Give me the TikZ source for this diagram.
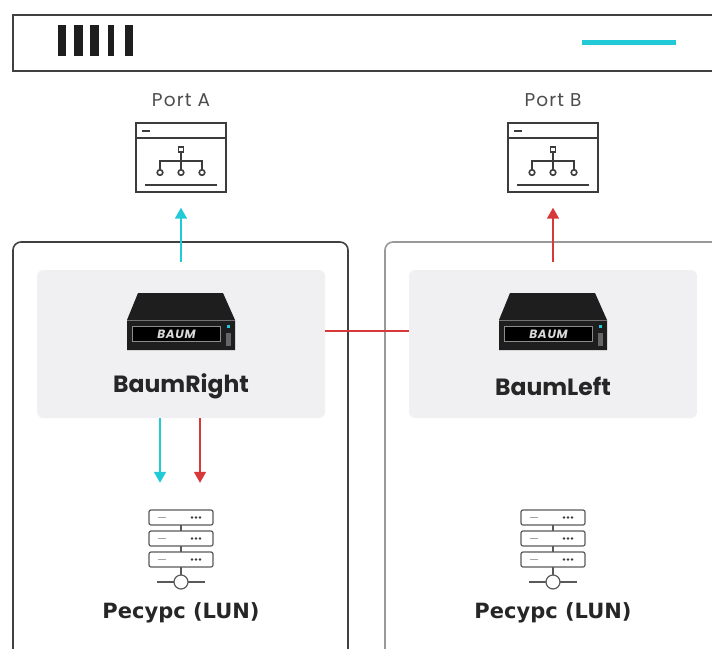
\documentclass[tikz,border=0pt]{standalone}
\usepackage{fontspec}
\setmainfont{Open Sans}
\newfontfamily\latinfont{Poppins}
\newfontfamily\widelatinfont[LetterSpace=6]{Poppins}
\newfontfamily\cyrfont{DejaVu Sans}
\usetikzlibrary{positioning,arrows.meta}
\definecolor{baumcyan}{HTML}{22C9D6}
\definecolor{baumred}{HTML}{D7393A}
\definecolor{panelgray}{HTML}{F0F0F3}
\definecolor{icongray}{HTML}{3C3C3C}
\definecolor{devblack}{HTML}{1E1E1E}

\begin{document}
\begin{tikzpicture}[x=1pt,y=-1pt,>={Triangle[length=11pt,width=12pt]},
  panel/.style={fill=panelgray,rounded corners=6pt,minimum width=288pt,minimum height=148pt,inner sep=0pt},
  window/.style={draw=icongray,line width=1.4pt,minimum width=90pt,minimum height=69pt,inner sep=0pt},
  icon/.style={draw=icongray,line width=1.3pt},
  rack/.style={draw=icongray!85,line width=1.2pt,rounded corners=2pt},
  title/.style={font=\latinfont\bfseries\fontsize{23.5}{26}\selectfont,text=black!85},
  restitle/.style={font=\cyrfont\bfseries\fontsize{21}{24}\selectfont,text=black!85},
  portname/.style={font=\widelatinfont\fontsize{18.5}{20}\selectfont,text=black!70},
  flow/.style={->,line width=1.5pt}]
\useasboundingbox (0,0) rectangle (712,648);
\clip (0,0) rectangle (712,648);
% header bar
\draw[line width=1.8pt,black!75] (13,15) rectangle (760,71);
\foreach \bx/\bw in {58/8,74/9,90/9,108/6,125/8}
  \fill[devblack] (\bx,25) rectangle ++(\bw,31);
\draw[baumcyan,line width=5pt] (582,42) -- (676,42);
% enclosures
\draw[line width=1.6pt,black!75,rounded corners=8pt] (13,700) -- (13,242) -- (348,242) -- (348,700);
\draw[line width=1.6pt,black!40,rounded corners=8pt] (385,700) -- (385,242) -- (760,242);
\node[panel] (panelA) at (181,344) {};
\node[panel] (panelB) at (553,344) {};
\foreach \s/\x/\lab/\dev in {A/181/Port A/BaumRight,B/553/Port B/BaumLeft}{
  % port window
  \node[portname] (lbl\s) at (\x,100) {\lab};
  \node[window] (port\s) at (\x,157.5) {};
  \draw[icon] (\x-45,138) -- (\x+45,138) (\x-39,131) -- (\x-31,131);
  \draw[icon,line width=1.2pt] (\x-2.5,147) rectangle (\x+2.5,152) (\x,152) -- (\x,161)
    (\x-21,170) -- (\x-21,161) -- (\x+21,161) -- (\x+21,170) (\x,161) -- (\x,169.5)
    (\x-36,185) -- (\x+36,185);
  \foreach \cx in {-21,0,21} \draw[icon,line width=1.6pt] (\x+\cx,172.5) circle (2.8pt);
  % storage box
  \fill[devblack] (\x-43,293) -- (\x+42,293) -- (\x+54,320) -- (\x+54,350) -- (\x-54,350) -- (\x-54,320) -- cycle;
  \draw[black!55,line width=.5pt] (\x-54,320) -- (\x+54,320);
  \node[fill=black,draw=black!45,line width=.6pt,minimum width=88pt,minimum height=15pt,inner sep=0pt,
    text=white!85!black,font=\widelatinfont\bfseries\itshape\fontsize{12}{12}\selectfont] (slot\s) at (\x-4.5,334) {BAUM};
  \fill[baumcyan] (\x+46,325) rectangle (\x+49,328);
  \fill[black!60] (\x+45,333) rectangle (\x+50,346);
  \node[title] (dev\s) at (\x,386) {\dev};
  % storage resource
  \node[minimum width=64pt,minimum height=80pt,inner sep=0pt] (lun\s) at (\x,550) {};
  \foreach \ry in {510,531,552}{
    \draw[rack] (\x-32,\ry) rectangle (\x+32,\ry+15);
    \draw[black!35,line width=1pt] (\x-23,\ry+7.5) -- (\x-15,\ry+7.5);
    \foreach \dx in {11,15,19} \fill[icongray] (\x+\dx,\ry+7.5) circle (1.3pt);
  }
  \draw[rack] (\x,525) -- (\x,531) (\x,546) -- (\x,552) (\x,567) -- (\x,575)
    (\x-24,582) -- (\x-7,582) (\x+7,582) -- (\x+24,582);
  \draw[rack] (\x,582) circle (7pt);
  \node[restitle] (res\s) at (\x,613) {Ресурс (LUN)};
}
% links
\coordinate (wire) at (0,331);
\draw[baumred,line width=1.3pt] (panelA.east |- wire) -- (panelB.west |- wire);
\draw[flow,baumcyan,shorten <=8pt,shorten >=15pt] (panelA.north) -- (portA.south);
\draw[flow,baumred,shorten <=8pt,shorten >=15pt] (panelB.north) -- (portB.south);
\draw[flow,baumcyan,shorten >=27pt] ([xshift=-21pt]panelA.south) -- ([xshift=-21pt]lunA.north);
\draw[flow,baumred,shorten >=27pt] ([xshift=19pt]panelA.south) -- ([xshift=19pt]lunA.north);
\end{tikzpicture}
\end{document}
